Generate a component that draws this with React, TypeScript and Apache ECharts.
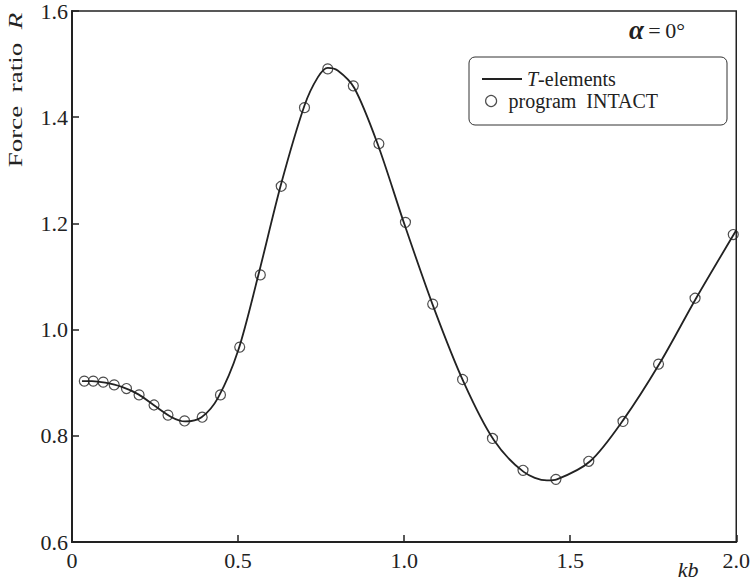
import React, { useEffect, useRef } from "react";
import * as echarts from "echarts";

const kbIntact = [0.037, 0.064, 0.094, 0.127, 0.164, 0.202, 0.247, 0.289, 0.339, 0.392, 0.447, 0.505, 0.567, 0.630, 0.700, 0.770, 0.847, 0.924, 1.004, 1.086, 1.176, 1.266, 1.358, 1.457, 1.556, 1.659, 1.766, 1.876, 1.991];
const rIntact = [0.903, 0.903, 0.901, 0.896, 0.889, 0.877, 0.858, 0.839, 0.828, 0.835, 0.877, 0.967, 1.103, 1.270, 1.418, 1.491, 1.459, 1.350, 1.202, 1.048, 0.906, 0.795, 0.735, 0.718, 0.752, 0.827, 0.935, 1.059, 1.179];

const kbLine = [0.03, 0.06, 0.10, 0.15, 0.20, 0.25, 0.30, 0.34, 0.39, 0.44, 0.50, 0.56, 0.63, 0.70, 0.74, 0.77, 0.80, 0.85, 0.92, 1.00, 1.09, 1.18, 1.27, 1.36, 1.43, 1.46, 1.56, 1.66, 1.77, 1.88, 2.00];
const rLine = [0.903, 0.903, 0.900, 0.892, 0.878, 0.856, 0.835, 0.827, 0.835, 0.872, 0.960, 1.100, 1.275, 1.422, 1.475, 1.493, 1.488, 1.455, 1.350, 1.200, 1.040, 0.900, 0.792, 0.732, 0.716, 0.718, 0.752, 0.830, 0.937, 1.060, 1.187];

const xTicks = ["0", "0.5", "1.0", "1.5", "2.0"];
const yTicks = ["0.6", "0.8", "1.0", "1.2", "1.4", "1.6"];

const FONT = "Liberation Serif";
const INK = "#222";

export default function App() {
  const ref = useRef<HTMLDivElement>(null);
  useEffect(() => {
    if (!ref.current) return;
    const chart = echarts.init(ref.current, undefined, { renderer: "svg" });
    chart.setOption({
      animation: false,
      backgroundColor: "#fff",
      textStyle: { fontFamily: FONT },
      grid: { left: 72, right: 15, top: 8, bottom: 41, show: true, borderColor: INK, borderWidth: 1.5 },
      xAxis: {
        type: "value", min: 0, max: 2, interval: 0.5,
        axisLine: { show: true, lineStyle: { color: INK, width: 2 } },
        axisTick: { show: true, inside: true, length: 7, lineStyle: { color: INK, width: 1.5 } },
        splitLine: { show: false },
        axisLabel: {
          color: INK, fontFamily: FONT, fontSize: 22, margin: 7,
          formatter: (v: number) => xTicks[Math.round(v / 0.5)] ?? "",
        },
      },
      yAxis: {
        type: "value", min: 0.6, max: 1.6, interval: 0.2,
        axisLine: { show: true, lineStyle: { color: INK, width: 2 } },
        axisTick: { show: true, inside: true, length: 7, lineStyle: { color: INK, width: 1.5 } },
        splitLine: { show: false },
        axisLabel: {
          color: INK, fontFamily: FONT, fontSize: 22, margin: 4,
          formatter: (v: number) => yTicks[Math.round((v - 0.6) / 0.2)] ?? "",
        },
      },
      legend: [
        {
          data: [{ name: "T-elements", icon: "rect", itemStyle: { color: INK } }],
          left: 482, top: 69, padding: 0, itemWidth: 40, itemHeight: 2, z: 5,
          formatter: () => "{i|T}-elements",
          textStyle: {
            color: INK, fontFamily: FONT, fontSize: 20, lineHeight: 20,
            rich: { i: { fontStyle: "italic", fontFamily: FONT, fontSize: 20, lineHeight: 20, color: INK } },
          },
        },
        {
          data: [{ name: "program INTACT", icon: "circle", itemStyle: { color: "rgba(255,255,255,0)", borderColor: INK, borderWidth: 1.2 } }],
          left: 485, top: 91, padding: 0, itemWidth: 11, itemHeight: 11, z: 5,
          formatter: () => "program  INTACT",
          textStyle: { color: INK, fontFamily: FONT, fontSize: 20, lineHeight: 20, padding: [0, 0, 0, 7] },
        },
      ],
      graphic: [
        {
          type: "rect", z: 1,
          shape: { x: 469, y: 57, width: 258, height: 68, r: 6 },
          style: { fill: "#fff", stroke: "#333", lineWidth: 1 },
        },
        {
          type: "text", x: 15, y: 90, rotation: Math.PI / 2, scaleX: 1.42,
          style: {
            text: "{n|Force  ratio  }{i|R}",
            align: "center", verticalAlign: "middle",
            rich: {
              n: { fontFamily: FONT, fontSize: 19, fill: INK },
              i: { fontFamily: FONT, fontSize: 19, fontStyle: "italic", fill: INK },
            },
          },
        },
        {
          type: "text", x: 688, y: 569,
          style: { text: "kb", fontFamily: FONT, fontSize: 22, fontStyle: "italic", fill: INK, align: "center", verticalAlign: "middle" },
        },
        {
          type: "text", x: 629, y: 30,
          style: {
            text: "{a|α}{b|\u2009=\u20090°}",
            verticalAlign: "middle",
            rich: {
              a: { fontFamily: FONT, fontSize: 27, fontStyle: "italic", fontWeight: "bold", fill: INK },
              b: { fontFamily: FONT, fontSize: 22, fill: INK },
            },
          },
        },
      ],
      series: [
        {
          name: "T-elements", type: "line", smooth: 0.3, symbol: "none",
          lineStyle: { color: INK, width: 1.8 }, itemStyle: { color: INK },
          data: kbLine.map((k, i) => [k, rLine[i]]), z: 2,
        },
        {
          name: "program INTACT", type: "scatter", symbol: "circle", symbolSize: 10,
          itemStyle: { color: "rgba(255,255,255,0)", borderColor: INK, borderWidth: 1.2 },
          data: kbIntact.map((k, i) => [k, rIntact[i]]), z: 3,
        },
      ],
    });
    return () => chart.dispose();
  }, []);
  return <div ref={ref} style={{ position: "fixed", left: 0, top: 0, width: 753, height: 583 }} />;
}
